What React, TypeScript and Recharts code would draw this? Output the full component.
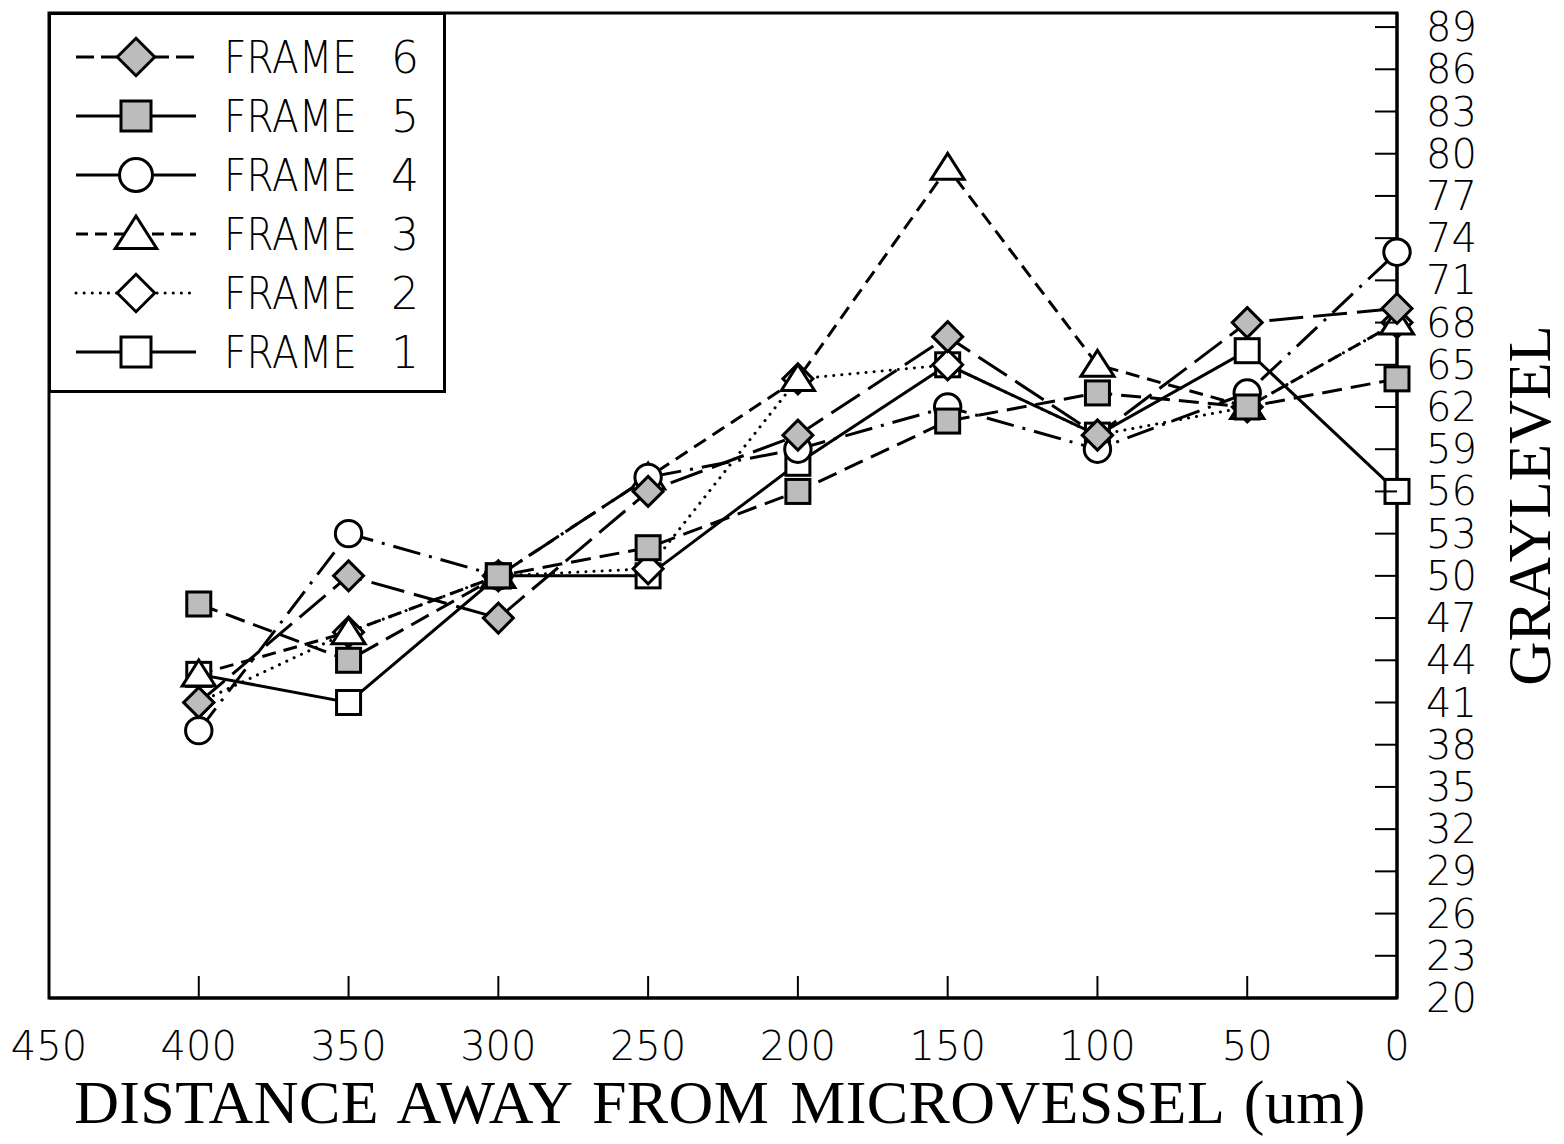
import { LineChart, Line, XAxis, YAxis, ReferenceArea, Label } from 'recharts';

const distances = [400, 350, 300, 250, 200, 150, 100, 50, 0];
const frame1 = [43, 41, 50, 50, 58, 65, 60, 66, 56];
const frame2 = [41, 46, 50, 50.5, 64, 65, 60, 62, 68];
const frame3 = [43, 46, 50, 57, 64, 79, 65, 62, 68];
const frame4 = [39, 53, 50, 57, 59, 62, 59, 63, 73];
const frame5 = [48, 44, 50, 52, 56, 61, 63, 62, 64];
const frame6 = [41, 50, 47, 56, 60, 67, 60, 68, 69];

const xTicks = [450, 400, 350, 300, 250, 200, 150, 100, 50, 0];
const yTicks = [20, 23, 26, 29, 32, 35, 38, 41, 44, 47, 50, 53, 56, 59, 62, 65, 68, 71, 74, 77, 80, 83, 86, 89];

const data = distances.map((d, i) => ({
  d,
  f1: frame1[i],
  f2: frame2[i],
  f3: frame3[i],
  f4: frame4[i],
  f5: frame5[i],
  f6: frame6[i],
}));

const GRAY = '#bcbcbc';
const SANS = '"DejaVu Sans", "Liberation Sans", sans-serif';
const SERIF = '"Liberation Serif", "Times New Roman", serif';

type Shape = 'square' | 'diamond' | 'circle' | 'triangle';

// draws one marker centred on cx, cy
const markerEl = (shape: Shape, filled: boolean, cx: number, cy: number, r: number, key?: string) => {
  const fill = filled ? GRAY : '#fff';
  const common = { fill, stroke: '#000', strokeWidth: 3, key };
  if (shape === 'square') return <rect {...common} x={cx - r} y={cy - r} width={r * 2} height={r * 2} />;
  if (shape === 'circle') return <circle {...common} cx={cx} cy={cy} r={r * 1.1} />;
  if (shape === 'diamond') {
    const h = r * 1.25;
    return <polygon {...common} points={`${cx},${cy - h} ${cx + h},${cy} ${cx},${cy + h} ${cx - h},${cy}`} />;
  }
  const h = r * 1.2;
  return <polygon {...common} points={`${cx},${cy - h} ${cx + h * 1.15},${cy + h * 0.8} ${cx - h * 1.15},${cy + h * 0.8}`} />;
};

const dotFor = (shape: Shape, filled: boolean) => (props: any) => {
  const { cx, cy, index, dataKey } = props;
  return markerEl(shape, filled, cx, cy, 12, `${dataKey}-${index}`);
};

const series = [
  { key: 'f1', name: 'FRAME 1', shape: 'square' as Shape, filled: false, dash: undefined, legendDash: undefined },
  { key: 'f2', name: 'FRAME 2', shape: 'diamond' as Shape, filled: false, dash: '0.1 8', legendDash: '0.1 8' },
  { key: 'f3', name: 'FRAME 3', shape: 'triangle' as Shape, filled: false, dash: '14 8', legendDash: '12 7' },
  { key: 'f4', name: 'FRAME 4', shape: 'circle' as Shape, filled: false, dash: '28 9 3 9', legendDash: undefined },
  { key: 'f6', name: 'FRAME 6', shape: 'diamond' as Shape, filled: true, dash: '34 10', legendDash: '18 7' },
  { key: 'f5', name: 'FRAME 5', shape: 'square' as Shape, filled: true, dash: '20 9', legendDash: undefined },
];

const legendOrder = ['f6', 'f5', 'f4', 'f3', 'f2', 'f1'];

const XTick = ({ x, y, payload }: any) => (
  <g>
    <line x1={x} y1={y} x2={x} y2={y - 22} stroke="#000" strokeWidth={2} />
    <text x={x} y={y + 62} textAnchor="middle" fontFamily={SANS} fontWeight={200} fontSize={40} fill="#000">
      {payload.value}
    </text>
  </g>
);

const YTick = ({ x, y, payload }: any) => (
  <g>
    <line x1={x} y1={y} x2={x - 22} y2={y} stroke="#000" strokeWidth={2} />
    <text x={x + 29} y={y + 14} textAnchor="start" fontFamily={SANS} fontWeight={200} fontSize={40} fill="#000">
      {payload.value}
    </text>
  </g>
);

const XTitle = ({ viewBox }: any) => (
  <text
    x={viewBox.x + viewBox.width / 2 - 3}
    y={viewBox.y + 125}
    textAnchor="middle"
    fontFamily={SERIF}
    fontSize={62}
    letterSpacing={0.4}
    wordSpacing={5}
    fill="#000"
  >
    DISTANCE AWAY FROM MICROVESSEL (um)
  </text>
);

const YTitle = ({ viewBox }: any) => {
  const cx = viewBox.x + 153;
  const cy = viewBox.y + viewBox.height / 2;
  return (
    <text x={cx} y={cy} transform={`rotate(-90 ${cx} ${cy})`} textAnchor="middle" fontFamily={SERIF} fontSize={61} fill="#000">
      GRAYLEVEL
    </text>
  );
};

const LegendBox = () => (
  <svg width={398} height={381} style={{ position: 'absolute', left: 40, top: 12 }}>
    <rect x={1.5} y={1.5} width={395} height={378} fill="#fff" stroke="#000" strokeWidth={3} />
    {legendOrder.map((k, i) => {
      const s = series.find((e) => e.key === k)!;
      const cy = 45 + i * 59;
      const [label, num] = s.name.split(' ');
      return (
        <g key={k}>
          <line
            x1={28}
            y1={cy}
            x2={148}
            y2={cy}
            stroke="#000"
            strokeWidth={3}
            strokeDasharray={s.legendDash}
            strokeLinecap={s.legendDash === '0.1 8' ? 'round' : 'butt'}
          />
          {markerEl(s.shape, s.filled, 88, cy, 15)}
          <text
            x={176}
            y={cy + 16}
            fontFamily={SANS}
            fontWeight={200}
            fontSize={44}
            textLength={133}
            lengthAdjust="spacingAndGlyphs"
            fill="#000"
          >
            {label}
          </text>
          <text x={343} y={cy + 16} fontFamily={SANS} fontWeight={200} fontSize={44} fill="#000">
            {num}
          </text>
        </g>
      );
    })}
  </svg>
);

export default function App() {
  // pulled up over the body margin so the top tick label has room
  return (
    <div style={{ position: 'relative', width: 1556, height: 1144, marginTop: -8, background: '#fff' }}>
      <LineChart width={1556} height={1144} data={data} margin={{ top: 13, right: 0, bottom: 0, left: 41 }}>
        <ReferenceArea x1={450} x2={0} y1={20} y2={90} fill="none" stroke="#000" strokeWidth={3} ifOverflow="visible" />
        <XAxis
          dataKey="d"
          type="number"
          domain={[0, 450]}
          reversed
          ticks={xTicks}
          interval={0}
          height={146}
          tickSize={0}
          tickMargin={0}
          axisLine={{ stroke: '#000', strokeWidth: 3 }}
          tickLine={false}
          tick={<XTick />}
        >
          <Label content={<XTitle />} />
        </XAxis>
        <YAxis
          orientation="right"
          type="number"
          domain={[20, 90]}
          ticks={yTicks}
          interval={0}
          width={167}
          tickSize={0}
          tickMargin={0}
          axisLine={{ stroke: '#000', strokeWidth: 3 }}
          tickLine={false}
          tick={<YTick />}
        >
          <Label content={<YTitle />} />
        </YAxis>
        {series.map((s) => (
          <Line
            key={s.key}
            dataKey={s.key}
            type="linear"
            stroke="#000"
            strokeWidth={3}
            strokeDasharray={s.dash}
            strokeLinecap={s.dash === '0.1 8' ? 'round' : 'butt'}
            dot={dotFor(s.shape, s.filled)}
            activeDot={false}
            isAnimationActive={false}
          />
        ))}
      </LineChart>
      <LegendBox />
    </div>
  );
}
